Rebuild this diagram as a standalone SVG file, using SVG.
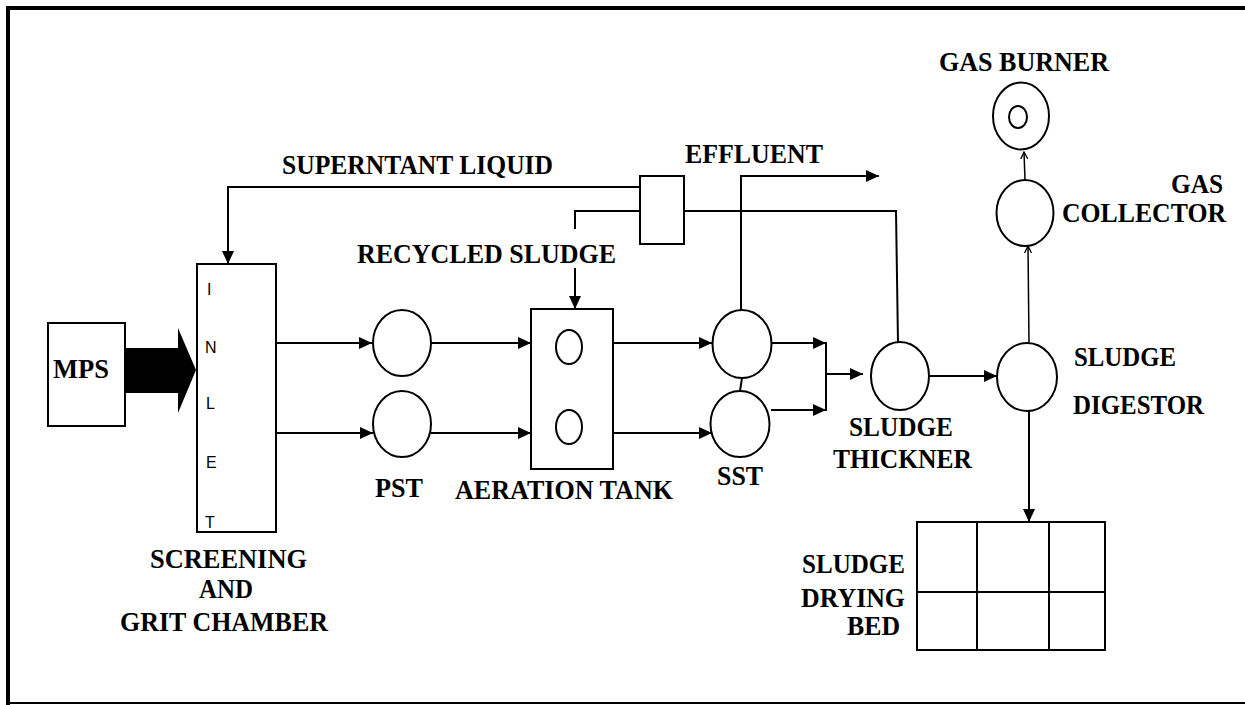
<svg xmlns="http://www.w3.org/2000/svg" width="1245" height="705" viewBox="0 0 1245 705">
<defs>
<marker id="ah" markerUnits="userSpaceOnUse" markerWidth="14" markerHeight="12" refX="13" refY="6" orient="auto">
<path d="M0,0 L13,6 L0,12 Z" fill="#000"/>
</marker>
<marker id="ahs" markerUnits="userSpaceOnUse" markerWidth="8" markerHeight="8" refX="7" refY="4" orient="auto">
<path d="M0,0.5 L7,4 L0,7.5" fill="none" stroke="#000" stroke-width="1.3"/>
</marker>
</defs>
<style>
.lbl{font-family:"Liberation Serif","DejaVu Serif","Times New Roman",serif;font-weight:bold;font-size:27px;fill:#000}
.let{font-family:"Liberation Sans",Arial,sans-serif;font-size:16px;fill:#000}
.sh{fill:#fff;stroke:#000;stroke-width:2}
.ln{fill:none;stroke:#000;stroke-width:2}
.la{fill:none;stroke:#000;stroke-width:2;marker-end:url(#ah)}
.ls{fill:none;stroke:#000;stroke-width:1.5;marker-end:url(#ahs)}
</style>
<rect width="1245" height="705" fill="#fff"/>
<g id="border">
<line x1="6" y1="8" x2="1245" y2="8" stroke="#000" stroke-width="4"/>
<line x1="8" y1="6" x2="8" y2="705" stroke="#000" stroke-width="4"/>
<line x1="8" y1="703" x2="1245" y2="703" stroke="#000" stroke-width="2"/>
</g>
<g id="connectors">
<path d="M125,348 H178 V328 L196,370 L178,413 V393 H125 Z" fill="#000"/>
<path class="la" d="M640,187 H228 V264"/>
<path class="ln" d="M640,211 H575 V229"/>
<path class="la" d="M575,268 V309"/>
<path class="ln" d="M684,211 H896 L898,343"/>
<path class="la" d="M741,310 V176 H879"/>
<path class="la" d="M276,343 H372"/>
<path class="la" d="M276,433 H373"/>
<path class="la" d="M431,343 H531"/>
<path class="la" d="M431,433 H531"/>
<path class="la" d="M613,343 H712"/>
<path class="la" d="M613,433 H712"/>
<path class="ln" d="M742,378 L740,391"/>
<path class="la" d="M771,343 H826"/>
<path class="la" d="M771,410 H826"/>
<path class="ln" d="M826,342 V411"/>
<path class="la" d="M826,374 H863"/>
<path class="la" d="M929,376 H997"/>
<path class="ls" d="M1029,344 L1028,246"/>
<path class="ls" d="M1025,180 L1024,152"/>
<path class="la" d="M1029,411 V522"/>
</g>
<g id="mps">
<rect class="sh" x="48" y="323" width="77" height="103"/>
<text class="lbl" x="53" y="378" textLength="56" lengthAdjust="spacingAndGlyphs">MPS</text>
</g>
<g id="inlet">
<rect class="sh" x="197" y="264" width="79" height="268"/>
<text class="let" x="207" y="295">I</text>
<text class="let" x="205" y="353">N</text>
<text class="let" x="206" y="409">L</text>
<text class="let" x="206" y="468">E</text>
<text class="let" x="205" y="528">T</text>
<text class="lbl" x="150" y="568" textLength="157" lengthAdjust="spacingAndGlyphs">SCREENING</text>
<text class="lbl" x="199" y="598" textLength="54" lengthAdjust="spacingAndGlyphs">AND</text>
<text class="lbl" x="120" y="631" textLength="208" lengthAdjust="spacingAndGlyphs">GRIT CHAMBER</text>
</g>
<g id="splitter">
<rect class="sh" x="640" y="176" width="44" height="68"/>
<text class="lbl" x="282" y="174" textLength="271" lengthAdjust="spacingAndGlyphs">SUPERNTANT LIQUID</text>
<text class="lbl" x="685" y="163" textLength="138" lengthAdjust="spacingAndGlyphs">EFFLUENT</text>
<text class="lbl" x="357" y="263" textLength="259" lengthAdjust="spacingAndGlyphs">RECYCLED SLUDGE</text>
</g>
<g id="pst">
<ellipse class="sh" cx="402" cy="343" rx="29" ry="33"/>
<ellipse class="sh" cx="402" cy="424" rx="29" ry="33"/>
<text class="lbl" x="375" y="497" textLength="48" lengthAdjust="spacingAndGlyphs">PST</text>
</g>
<g id="aeration">
<rect class="sh" x="531" y="309" width="82" height="160"/>
<ellipse class="sh" cx="569" cy="347" rx="13" ry="17"/>
<ellipse class="sh" cx="569" cy="427" rx="13" ry="17"/>
<text class="lbl" x="455" y="499" textLength="218" lengthAdjust="spacingAndGlyphs">AERATION TANK</text>
</g>
<g id="sst">
<ellipse class="sh" cx="742" cy="344" rx="29.5" ry="34"/>
<ellipse class="sh" cx="740" cy="424" rx="29.5" ry="33"/>
<text class="lbl" x="717" y="485" textLength="46" lengthAdjust="spacingAndGlyphs">SST</text>
</g>
<g id="thickener">
<ellipse class="sh" cx="900" cy="376" rx="29" ry="34"/>
<text class="lbl" x="849" y="436" textLength="104" lengthAdjust="spacingAndGlyphs">SLUDGE</text>
<text class="lbl" x="833" y="468" textLength="139" lengthAdjust="spacingAndGlyphs">THICKNER</text>
</g>
<g id="digestor">
<ellipse class="sh" cx="1027" cy="377" rx="30" ry="34"/>
<text class="lbl" x="1074" y="366" textLength="102" lengthAdjust="spacingAndGlyphs">SLUDGE</text>
<text class="lbl" x="1073" y="414" textLength="131" lengthAdjust="spacingAndGlyphs">DIGESTOR</text>
</g>
<g id="collector">
<ellipse class="sh" cx="1025" cy="213" rx="28.5" ry="33"/>
<text class="lbl" x="1171" y="193" textLength="52" lengthAdjust="spacingAndGlyphs">GAS</text>
<text class="lbl" x="1062" y="222" textLength="164" lengthAdjust="spacingAndGlyphs">COLLECTOR</text>
</g>
<g id="burner">
<ellipse class="sh" cx="1021" cy="116" rx="28" ry="33.5"/>
<ellipse class="sh" cx="1018" cy="117" rx="9" ry="11"/>
<text class="lbl" x="939" y="71" textLength="170" lengthAdjust="spacingAndGlyphs">GAS BURNER</text>
</g>
<g id="drying-bed">
<rect class="sh" x="917" y="522" width="188" height="128"/>
<path class="ln" d="M917,592 H1105 M977,522 V650 M1049,522 V650"/>
<text class="lbl" x="802" y="573" textLength="103" lengthAdjust="spacingAndGlyphs">SLUDGE</text>
<text class="lbl" x="801" y="607" textLength="104" lengthAdjust="spacingAndGlyphs">DRYING</text>
<text class="lbl" x="847" y="635" textLength="53" lengthAdjust="spacingAndGlyphs">BED</text>
</g>
</svg>
